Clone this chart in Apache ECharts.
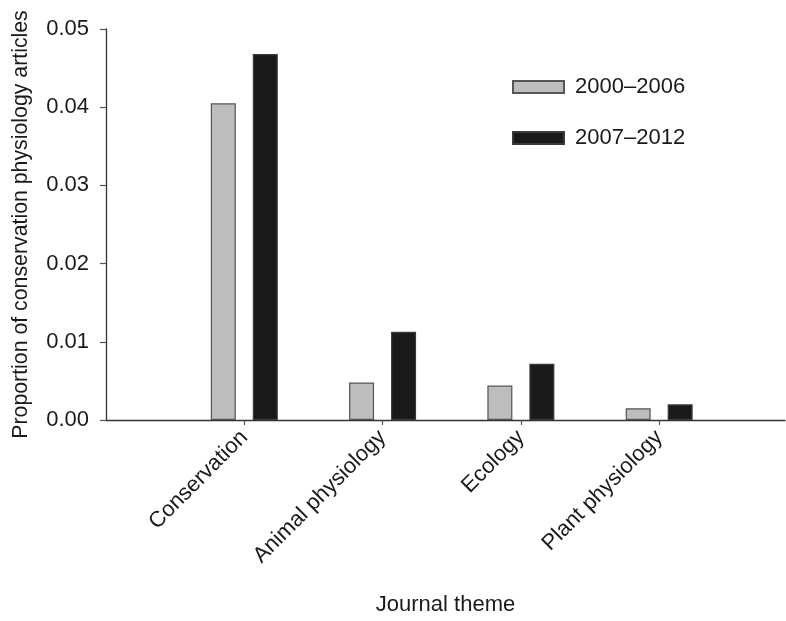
<!DOCTYPE html>
<html>
<head>
<meta charset="utf-8">
<script src="https://cdn.jsdelivr.net/npm/echarts@6/dist/echarts.min.js"></script>
<style>html,body{margin:0;padding:0;background:#fff}#c{width:786px;height:621px}</style>
</head>
<body>
<div id="c"></div>
<script>
const categories = ['Conservation', 'Animal physiology', 'Ecology', 'Plant physiology'];
const seriesNames = ['2000\u20132006', '2007\u20132012'];
const values2000_2006 = [0.0405, 0.0048, 0.0044, 0.0015];
const values2007_2012 = [0.0468, 0.0113, 0.0072, 0.0020];
const yTicks = [0, 0.01, 0.02, 0.03, 0.04, 0.05];

const font = 'Liberation Sans, Arial, Helvetica, sans-serif';
const txt = '#1a1a1a';
const fs = 22;
const chart = echarts.init(document.getElementById('c'), null, {renderer: 'canvas'});
const idx = categories.map((c, i) => i);
chart.setOption({
  animation: false,
  backgroundColor: '#fff',
  textStyle: {fontFamily: font, color: txt},
  grid: {left: 106, right: 1, top: 29, bottom: 195, containLabel: false},
  legend: {
    orient: 'vertical', left: 507, top: 71, itemWidth: 51, itemHeight: 12, itemGap: 29,
    icon: 'rect', textStyle: {fontSize: fs, color: txt, fontFamily: font, padding: [0, 0, 0, 6]},
    data: seriesNames
  },
  xAxis: {
    type: 'value', min: -1, max: 3.91,
    name: 'Journal theme', nameLocation: 'middle', nameGap: 174,
    nameTextStyle: {fontSize: fs, color: txt, fontFamily: font},
    axisLine: {show: true, onZero: false, lineStyle: {color: '#333', width: 1.3}},
    axisTick: {show: true, length: 5, lineStyle: {color: '#555', width: 1.2}, customValues: idx},
    axisLabel: {rotate: 45, margin: 14, fontSize: fs, color: txt, fontFamily: font,
      customValues: idx, formatter: v => categories[Math.round(v)]},
    splitLine: {show: false}
  },
  yAxis: {
    type: 'value', min: 0, max: 0.05, interval: 0.01,
    name: 'Proportion of conservation physiology articles', nameLocation: 'middle', nameGap: 74,
    nameTextStyle: {fontSize: 21.3, color: txt, fontFamily: font},
    axisLine: {show: true, onZero: false, lineStyle: {color: '#333', width: 1.3}},
    axisTick: {show: true, length: 6, lineStyle: {color: '#555', width: 1.2}},
    axisLabel: {fontSize: fs, color: txt, fontFamily: font, margin: 17,
      customValues: yTicks, formatter: v => v.toFixed(2)},
    splitLine: {show: false}
  },
  series: [
    {name: seriesNames[0], type: 'bar', barWidth: 25, barGap: '68%',
     itemStyle: {color: '#bdbdbd', borderColor: '#555', borderWidth: 1.2},
     data: values2000_2006.map((v, i) => [i, v])},
    {name: seriesNames[1], type: 'bar', barWidth: 25, barGap: '68%',
     itemStyle: {color: '#1a1a1a', borderColor: '#3a3a3a', borderWidth: 1.2},
     data: values2007_2012.map((v, i) => [i, v])}
  ]
});
</script>
</body>
</html>
